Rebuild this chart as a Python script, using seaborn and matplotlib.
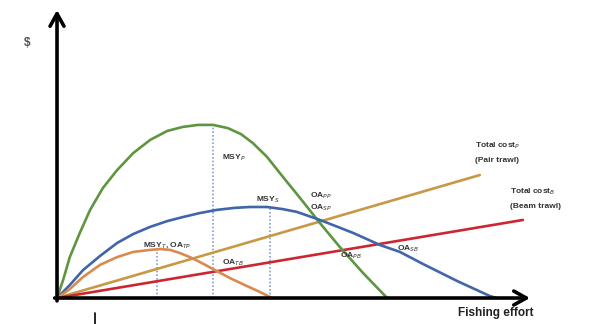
import numpy as np
import pandas as pd
import matplotlib
matplotlib.use("Agg")
import matplotlib.pyplot as plt
from matplotlib.lines import Line2D
import seaborn as sns

# curves (effort, revenue) in arbitrary units
green_x = [0, 0.13, 0.27, 0.49, 0.70, 0.97, 1.27, 1.61, 1.97, 2.33, 2.66, 2.98, 3.30,
           3.61, 3.89, 4.14, 4.44, 4.71, 5.14, 5.56, 5.98, 6.47, 6.98]
green_y = [0, 0.63, 1.42, 2.29, 3.06, 3.82, 4.44, 5.03, 5.49, 5.80, 5.94, 6.01, 6.01,
           5.90, 5.69, 5.38, 4.90, 4.34, 3.47, 2.60, 1.77, 0.87, 0]

blue_x = [0, 0.27, 0.55, 0.91, 1.27, 1.61, 1.97, 2.33, 2.66, 3.02, 3.38, 3.76, 4.08,
          4.44, 4.76, 5.07, 5.56, 6.26, 6.83, 7.25, 7.74, 8.46, 9.15, 9.30]
blue_y = [0, 0.45, 0.97, 1.46, 1.91, 2.22, 2.47, 2.67, 2.81, 2.95, 3.06, 3.13, 3.16,
          3.16, 3.09, 2.99, 2.71, 2.26, 1.84, 1.60, 1.18, 0.59, 0.07, 0]

orange_x = [0, 0.27, 0.55, 0.91, 1.27, 1.61, 1.97, 2.18, 2.39, 2.60, 2.81, 3.02, 3.34,
            3.66, 3.97, 4.25, 4.55]
orange_y = [0, 0.31, 0.73, 1.15, 1.42, 1.60, 1.67, 1.70, 1.67, 1.56, 1.42, 1.25, 0.97,
            0.69, 0.45, 0.24, 0]

pair_cost_x = [0, 8.94]
pair_cost_y = [0, 4.27]
beam_cost_x = [0, 9.85]
beam_cost_y = [0, 2.71]

# MSY effort levels (x, top of dotted line)
msy_x = [2.11, 3.30, 4.50]
msy_y = [1.68, 6.01, 3.16]

sns.set_style("white")
plt.rcParams['font.family'] = ['Liberation Sans', 'DejaVu Sans']

fig = plt.figure(figsize=(5.89, 3.24), dpi=100)
ax = fig.add_axes([0.0968, 0.0802, 0.803, 0.889])

# MSY guide lines
for mx, my in zip(msy_x, msy_y):
    ax.plot([mx, mx], [0, my], color='#7f9fd4', lw=1.2, ls=(0, (1, 1.2)), zorder=1)

line_kw = dict(lw=1.9, solid_joinstyle='round', solid_capstyle='round')
sns.lineplot(x=green_x, y=green_y, color='#5e9640', ax=ax, zorder=3, **line_kw)
sns.lineplot(x=blue_x, y=blue_y, color='#4065aa', ax=ax, zorder=3, **line_kw)
sns.lineplot(x=orange_x, y=orange_y, color='#d98a50', ax=ax, zorder=3, **line_kw)
sns.lineplot(x=pair_cost_x, y=pair_cost_y, color='#c99845', ax=ax, zorder=2, **line_kw)
sns.lineplot(x=beam_cost_x, y=beam_cost_y, color='#cc2630', ax=ax, zorder=2, **line_kw)

ax.set_xlim(0, 10)
ax.set_ylim(0, 10)
for s in ax.spines.values():
    s.set_visible(False)
ax.set_xticks([])
ax.set_yticks([])
ax.set_xlabel('')
ax.set_ylabel('')

# axes drawn as arrows
arr = dict(arrowstyle='->,head_length=0.9,head_width=0.5', lw=2.6, color='black',
           shrinkA=0, shrinkB=0)
ax.annotate('', xy=(0, 1.0), xytext=(0, -0.01), xycoords='axes fraction',
            arrowprops=arr, annotation_clip=False)
ax.annotate('', xy=(1.0, 0), xytext=(-0.005, 0), xycoords='axes fraction',
            arrowprops=arr, annotation_clip=False)

lab = dict(fontsize=6, fontweight='bold', color='#333333', va='center', ha='left')
ax.text(3.49, 4.86, 'MSY$_P$', **lab)
ax.text(4.21, 3.40, 'MSY$_S$', **lab)
ax.text(1.82, 1.84, 'MSY$_T$, OA$_{TP}$', **lab)
ax.text(3.49, 1.22, 'OA$_{TB}$', **lab)
ax.text(5.35, 3.55, 'OA$_{PP}$', **lab)
ax.text(5.35, 3.15, 'OA$_{SP}$', **lab)
ax.text(5.98, 1.46, 'OA$_{PB}$', **lab)
ax.text(7.19, 1.70, 'OA$_{SB}$', **lab)

ax.text(8.84, 5.28, 'Total cost$_P$', **lab)
ax.text(8.84, 4.76, '(Pair trawl)', **lab)
ax.text(9.58, 3.68, 'Total cost$_B$', **lab)
ax.text(9.58, 3.16, '(Beam trawl)', **lab)

fig.text(0.046, 0.867, '$', fontsize=8.5, fontweight='bold', color='#555555',
         ha='center', va='center')
fig.text(0.905, 0.034, 'Fishing effort', fontsize=8.5, fontweight='bold',
         color='#222222', ha='right', va='center')
fig.add_artist(Line2D([95 / 589, 95 / 589], [0.0, 0.035], color='black', lw=1.2))

fig.savefig('out.png', dpi=100)
